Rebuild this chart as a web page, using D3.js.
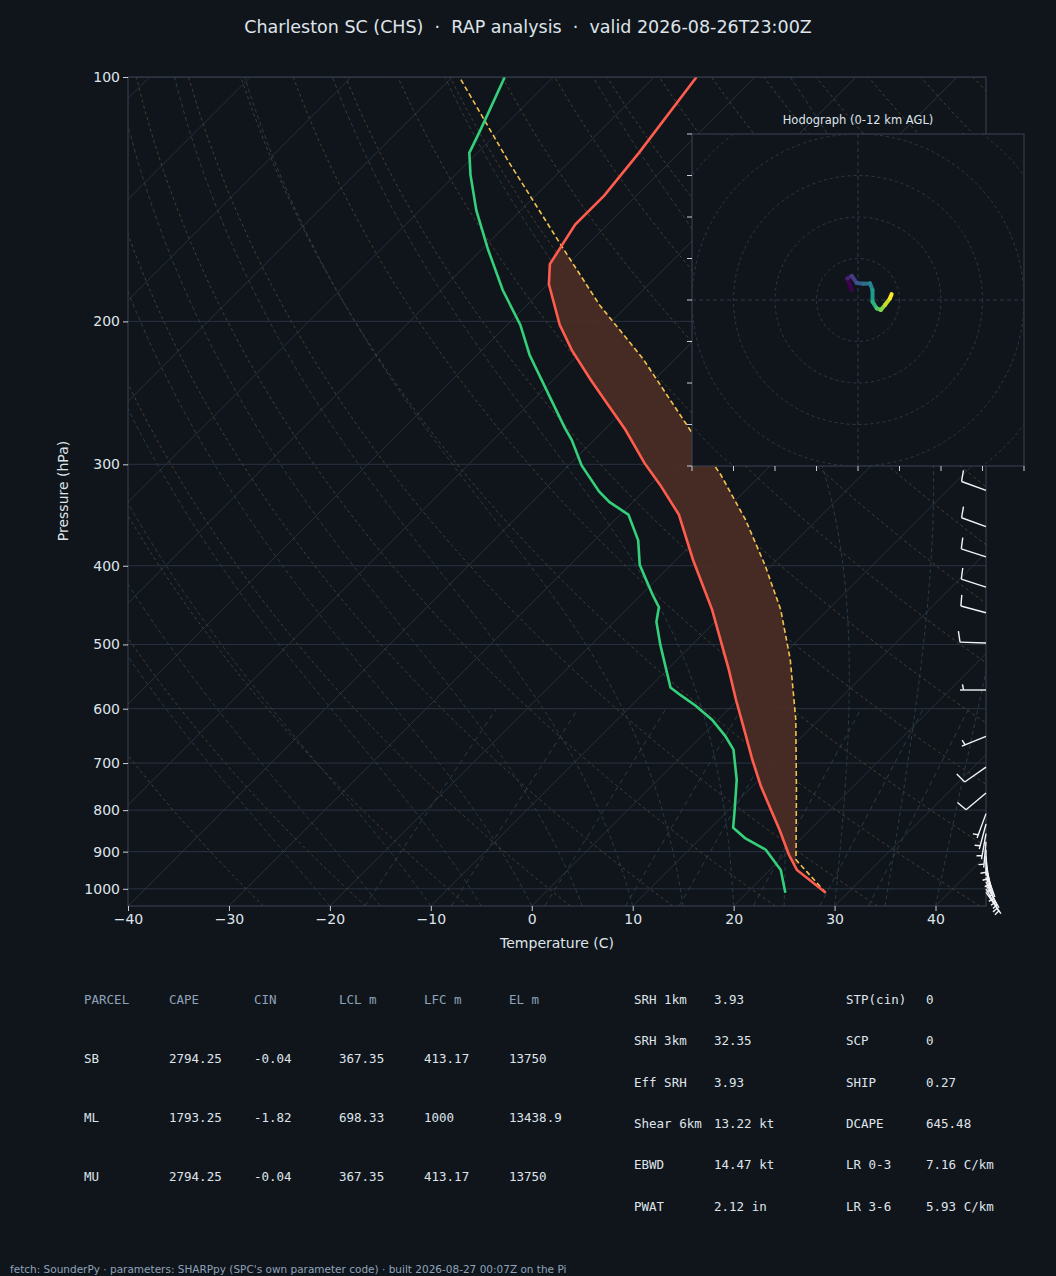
<!DOCTYPE html>
<html>
<head>
<meta charset="utf-8">
<script src="https://cdn.jsdelivr.net/npm/d3@7"></script>
<style>
  body { margin: 0; background: #10151c; }
  svg { display: block; }
</style>
</head>
<body>
<svg id="chart"></svg>
<script>
// Sounding data
const tempP   = [1011, 948, 908, 846, 795, 747, 694, 637, 585, 537, 453, 393.5, 346, 318, 299, 272, 250, 236, 217, 202, 180, 170, 152, 140, 124, 100];
const tempC   = [27.8, 22.7, 20.4, 17.0, 13.9, 10.8, 7.4, 3.6, -0.2, -3.9, -11.5, -18.3, -24.2, -29.0, -32.7, -37.9, -42.9, -46.3, -51.1, -54.8, -59.9, -61.8, -63.2, -63.2, -64.0, -65.8];

const dewP    = [1011, 948, 895, 866, 841, 800, 734, 674, 648, 619, 595, 577, 565, 537, 501, 469, 450, 434, 399, 372, 346, 334, 324, 301, 280, 270, 240, 220, 202, 183, 163, 146, 132, 124, 116, 100];
const dewC    = [23.8, 21.1, 17.6, 14.4, 12.2, 10.6, 7.8, 4.5, 2.3, -0.6, -3.6, -6.2, -7.9, -10.1, -13.1, -15.8, -17.0, -18.9, -23.1, -25.7, -29.2, -32.3, -34.4, -38.7, -42.2, -44.2, -50.3, -54.8, -58.7, -63.9, -69.4, -74.4, -78.5, -80.8, -82.0, -84.8];

const parcelP = [1011, 921, 755, 619, 522, 453, 399, 351, 309, 272, 222, 191, 163, 127, 100];
const parcelC = [27.8, 21.6, 14.7, 7.7, 1.2, -4.7, -10.7, -17.1, -24.0, -31.5, -43.3, -52.8, -61.9, -76.1, -89.3];

// winds: pressure, direction (deg from), speed (kt)
const windP   = [1010, 1000, 990, 980, 968, 955, 942, 928, 912, 895, 875, 855, 832, 808, 762, 708, 649, 569, 498, 457, 425, 390, 358, 323, 280, 250, 200, 150, 120];
const windDir = [145, 150, 150, 155, 160, 160, 165, 170, 175, 180, 185, 190, 195, 200, 230, 235, 248, 270, 272, 285, 288, 288, 290, 290, 290, 290, 285, 280, 275];
const windKt  = [5, 5, 5, 5, 5, 5, 5, 5, 5, 5, 5, 5, 5, 5, 10, 10, 5, 5, 10, 10, 10, 10, 10, 10, 10, 10, 10, 5, 5];

// hodograph (kt)
const hodoU = [-1.5, -2.6, -1.5, -0.3, 1.3, 2.9, 3.5, 3.5, 4.5, 5.5, 6.5, 7.7, 8.1];
const hodoV = [2.4, 5.2, 5.8, 4.1, 3.9, 4.0, 2.4, -0.4, -2.0, -2.4, -1.2, 0.4, 1.4];

const pTicks = [100, 200, 300, 400, 500, 600, 700, 800, 900, 1000];
const tTicks = [-40, -30, -20, -10, 0, 10, 20, 30, 40];

const parcelTable = [
  ["PARCEL", "CAPE", "CIN", "LCL m", "LFC m", "EL m"],
  ["SB", "2794.25", "-0.04", "367.35", "413.17", "13750"],
  ["ML", "1793.25", "-1.82", "698.33", "1000", "13438.9"],
  ["MU", "2794.25", "-0.04", "367.35", "413.17", "13750"]
];
const paramLeft = [["SRH 1km", "3.93"], ["SRH 3km", "32.35"], ["Eff SRH", "3.93"], ["Shear 6km", "13.22 kt"], ["EBWD", "14.47 kt"], ["PWAT", "2.12 in"]];
const paramRight = [["STP(cin)", "0"], ["SCP", "0"], ["SHIP", "0.27"], ["DCAPE", "645.48"], ["LR 0-3", "7.16 C/km"], ["LR 3-6", "5.93 C/km"]];

const W = 1056, H = 1276;
const L = 128, R = 986, T0 = 77, B = 906;
const fg = "#dfe4ea", dim = "#8fa3b8", frame = "#3a4452";

const svg = d3.select("#chart").attr("width", W).attr("height", H)
  .style("font-family", "DejaVu Sans");
svg.append("rect").attr("width", W).attr("height", H).attr("fill", "#10151c");

const xT = d3.scaleLinear().domain([-40, 45]).range([L, R]);
const yP = d3.scaleLog().domain([100, 1050]).range([T0, B]);
const sx = (t, p) => xT(t) + (B - yP(p));

svg.append("defs").append("clipPath").attr("id", "plot")
  .append("rect").attr("x", L).attr("y", T0).attr("width", R - L).attr("height", B - T0);
const plot = svg.append("g").attr("clip-path", "url(#plot)");

const line = d3.line().x(d => sx(d[0], d[1])).y(d => yP(d[1]));
const pGrid = d3.range(1050, 99, -10);

// isobars
plot.selectAll(".isobar").data(pTicks).join("line")
  .attr("x1", L).attr("x2", R).attr("y1", d => yP(d)).attr("y2", d => yP(d))
  .attr("stroke", "#2a3340").attr("stroke-width", 1);
// isotherms
plot.selectAll(".isotherm").data(d3.range(-140, 60, 10)).join("path")
  .attr("d", t => line([[t, 1050], [t, 100]]))
  .attr("stroke", "#27303b").attr("stroke-width", 1).attr("fill", "none");
// dry adiabats
plot.selectAll(".dry").data(d3.range(-30, 220, 10)).join("path")
  .attr("d", th => line(pGrid.map(p => [(th + 273.15) * Math.pow(p / 1000, 0.2857) - 273.15, p])))
  .attr("stroke", "#4d4232").attr("stroke-width", 0.9).attr("stroke-dasharray", "3,3").attr("fill", "none");
// moist adiabats
function es(t) { return 6.112 * Math.exp(17.67 * t / (t + 243.5)); }
function moist(t0) {
  const pts = [];
  let t = t0 + 273.15;
  for (let p = 1050; p >= 100; p -= 5) {
    pts.push([t - 273.15, p]);
    const rs = 0.622 * es(t - 273.15) / (p - es(t - 273.15));
    const dTdp = (287 * t + 2.5e6 * rs) / (p * (1004 + 2.5e6 * 2.5e6 * rs * 0.622 / (287 * t * t)));
    t -= dTdp * 5;
  }
  return pts;
}
plot.selectAll(".moist").data(d3.range(-20, 45, 5)).join("path")
  .attr("d", t => line(moist(t)))
  .attr("stroke", "#2a4148").attr("stroke-width", 0.9).attr("stroke-dasharray", "4,3").attr("fill", "none");
// mixing ratio lines
function tdFromW(w, p) { const e = w / 1000 * p / (0.622 + w / 1000); const a = Math.log(e / 6.112); return 243.5 * a / (17.67 - a); }
plot.selectAll(".mix").data([1, 2, 4, 7, 10, 16, 24, 32]).join("path")
  .attr("d", w => line([1050, 600].map(p => [tdFromW(w, p), p])))
  .attr("stroke", "#2c3e46").attr("stroke-width", 0.9).attr("stroke-dasharray", "5,4").attr("fill", "none");

// CAPE shading
const interp = (ps, vs, p) => {
  const lp = Math.log(p);
  for (let i = 0; i < ps.length - 1; i++) {
    const a = Math.log(ps[i]), b = Math.log(ps[i + 1]);
    if (lp <= a && lp >= b) return vs[i] + (vs[i + 1] - vs[i]) * (lp - a) / (b - a);
  }
  return vs[vs.length - 1];
};
const capeP = d3.range(932, 160, -1);
plot.append("path")
  .datum(capeP)
  .attr("d", d3.area()
    .x0(p => sx(interp(tempP, tempC, p), p))
    .x1(p => sx(Math.max(interp(parcelP, parcelC, p), interp(tempP, tempC, p)), p))
    .y(p => yP(p)))
  .attr("fill", "#4a2c26").attr("opacity", 0.95);

plot.append("path").datum(parcelP.map((p, i) => [parcelC[i], p])).attr("d", line)
  .attr("fill", "none").attr("stroke", "#f2c14e").attr("stroke-width", 1.6).attr("stroke-dasharray", "5,3");
plot.append("path").datum(dewP.map((p, i) => [dewC[i], p])).attr("d", line)
  .attr("fill", "none").attr("stroke", "#34d07a").attr("stroke-width", 2.6);
plot.append("path").datum(tempP.map((p, i) => [tempC[i], p])).attr("d", line)
  .attr("fill", "none").attr("stroke", "#ff5c4d").attr("stroke-width", 2.6);

// frame + axes
svg.append("rect").attr("x", L).attr("y", T0).attr("width", R - L).attr("height", B - T0)
  .attr("fill", "none").attr("stroke", frame);
const xAxis = svg.append("g").attr("transform", `translate(0,${B})`)
  .call(d3.axisBottom(xT).tickValues(tTicks).tickSize(5).tickFormat(d => String(d).replace("-", "\u2212")));
const yAxis = svg.append("g").attr("transform", `translate(${L},0)`)
  .call(d3.axisLeft(yP).tickValues(pTicks).tickSize(5).tickFormat(d3.format("d")));
[xAxis, yAxis].forEach(a => {
  a.select(".domain").remove();
  a.selectAll("line").attr("stroke", "#c8ced6");
  a.selectAll("text").attr("fill", fg).style("font-size", "14px").style("font-family", "DejaVu Sans");
});
svg.append("text").attr("x", 557).attr("y", 948).attr("text-anchor", "middle")
  .attr("fill", fg).style("font-size", "14px").text("Temperature (C)");
svg.append("text").attr("transform", "translate(68,491) rotate(-90)").attr("text-anchor", "middle")
  .attr("fill", fg).style("font-size", "14px").text("Pressure (hPa)");
svg.append("text").attr("x", 528).attr("y", 33).attr("text-anchor", "middle")
  .attr("fill", fg).style("font-size", "17.5px").style("white-space", "pre")
  .text("Charleston SC (CHS)  \u00b7  RAP analysis  \u00b7  valid 2026-08-26T23:00Z");

// wind barbs
const barbs = svg.append("g").attr("stroke", "#f2f4f7").attr("stroke-width", 1.4).attr("fill", "none");
windP.forEach((p, i) => {
  const x0 = R, y0 = yP(p);
  const a = windDir[i] * Math.PI / 180;
  const ux = Math.sin(a), uy = -Math.cos(a); // staff points toward where the wind comes from
  const len = 26;
  const x1 = x0 + ux * len, y1 = y0 + uy * len;
  barbs.append("line").attr("x1", x0).attr("y1", y0).attr("x2", x1).attr("y2", y1);
  const fx = -uy, fy = ux; // feather side
  let spd = windKt[i], pos = 0;
  while (spd >= 10) {
    const bx = x1 - ux * pos * 3.5, by = y1 - uy * pos * 3.5;
    barbs.append("line").attr("x1", bx).attr("y1", by)
      .attr("x2", bx + fx * 11 + ux * 2).attr("y2", by + fy * 11 + uy * 2);
    spd -= 10; pos++;
  }
  if (spd >= 5) {
    if (pos === 0) pos = 1;
    const bx = x1 - ux * pos * 3.5, by = y1 - uy * pos * 3.5;
    barbs.append("line").attr("x1", bx).attr("y1", by)
      .attr("x2", bx + fx * 5.5 + ux * 1).attr("y2", by + fy * 5.5 + uy * 1);
  }
});

// hodograph inset
const hx = 692, hy = 134, hs = 332;
const hodo = svg.append("g");
hodo.append("rect").attr("x", hx).attr("y", hy).attr("width", hs).attr("height", hs)
  .attr("fill", "#10151c").attr("stroke", frame);
const hu = d3.scaleLinear().domain([-40, 40]).range([hx, hx + hs]);
const hv = d3.scaleLinear().domain([-40, 40]).range([hy + hs, hy]);
hodo.append("defs").append("clipPath").attr("id", "hclip")
  .append("rect").attr("x", hx).attr("y", hy).attr("width", hs).attr("height", hs);
const hg = hodo.append("g").attr("clip-path", "url(#hclip)");
[10, 20, 30, 40, 50].forEach(r => hg.append("circle").attr("cx", hu(0)).attr("cy", hv(0))
  .attr("r", hu(r) - hu(0)).attr("fill", "none").attr("stroke", "#2e3846").attr("stroke-dasharray", "3,3"));
hg.append("line").attr("x1", hx).attr("x2", hx + hs).attr("y1", hv(0)).attr("y2", hv(0))
  .attr("stroke", "#2e3846").attr("stroke-dasharray", "4,3");
hg.append("line").attr("y1", hy).attr("y2", hy + hs).attr("x1", hu(0)).attr("x2", hu(0))
  .attr("stroke", "#2e3846").attr("stroke-dasharray", "4,3");
for (let i = 0; i < hodoU.length - 1; i++) {
  hg.append("line").attr("x1", hu(hodoU[i])).attr("y1", hv(hodoV[i]))
    .attr("x2", hu(hodoU[i + 1])).attr("y2", hv(hodoV[i + 1]))
    .attr("stroke", d3.interpolateViridis(i / (hodoU.length - 2))).attr("stroke-width", 4).attr("stroke-linecap", "round");
}
hodo.selectAll(".hty").data(d3.range(-40, 50, 10)).join("line")
  .attr("x1", hx - 5).attr("x2", hx).attr("y1", d => hv(d)).attr("y2", d => hv(d)).attr("stroke", "#c8ced6");
hodo.selectAll(".htx").data(d3.range(-40, 50, 10)).join("line")
  .attr("y1", hy + hs).attr("y2", hy + hs + 5).attr("x1", d => hu(d)).attr("x2", d => hu(d)).attr("stroke", "#c8ced6");
hodo.append("text").attr("x", hx + hs / 2).attr("y", 124).attr("text-anchor", "middle")
  .attr("fill", fg).style("font-size", "11.5px").text("Hodograph (0-12 km AGL)");

// tables
const mono = "DejaVu Sans Mono";
const colX = [84, 169, 254, 339, 424, 509], rowY = [1004, 1063, 1122, 1181];
parcelTable.forEach((row, r) => row.forEach((c, j) => svg.append("text")
  .attr("x", colX[j]).attr("y", rowY[r]).attr("fill", r === 0 ? dim : fg)
  .style("font-family", mono).style("font-size", "12.5px").text(c)));
const pY = [1004, 1045, 1087, 1128, 1169, 1211];
paramLeft.forEach((row, r) => {
  svg.append("text").attr("x", 634).attr("y", pY[r]).attr("fill", fg).style("font-family", mono).style("font-size", "12.5px").text(row[0]);
  svg.append("text").attr("x", 714).attr("y", pY[r]).attr("fill", fg).style("font-family", mono).style("font-size", "12.5px").text(row[1]);
});
paramRight.forEach((row, r) => {
  svg.append("text").attr("x", 846).attr("y", pY[r]).attr("fill", fg).style("font-family", mono).style("font-size", "12.5px").text(row[0]);
  svg.append("text").attr("x", 926).attr("y", pY[r]).attr("fill", fg).style("font-family", mono).style("font-size", "12.5px").text(row[1]);
});
svg.append("text").attr("x", 10).attr("y", 1273).attr("fill", dim).style("font-size", "10.5px")
  .text("fetch: SounderPy \u00b7 parameters: SHARPpy (SPC's own parameter code) \u00b7 built 2026-08-27 00:07Z on the Pi");
</script>
</body>
</html>
